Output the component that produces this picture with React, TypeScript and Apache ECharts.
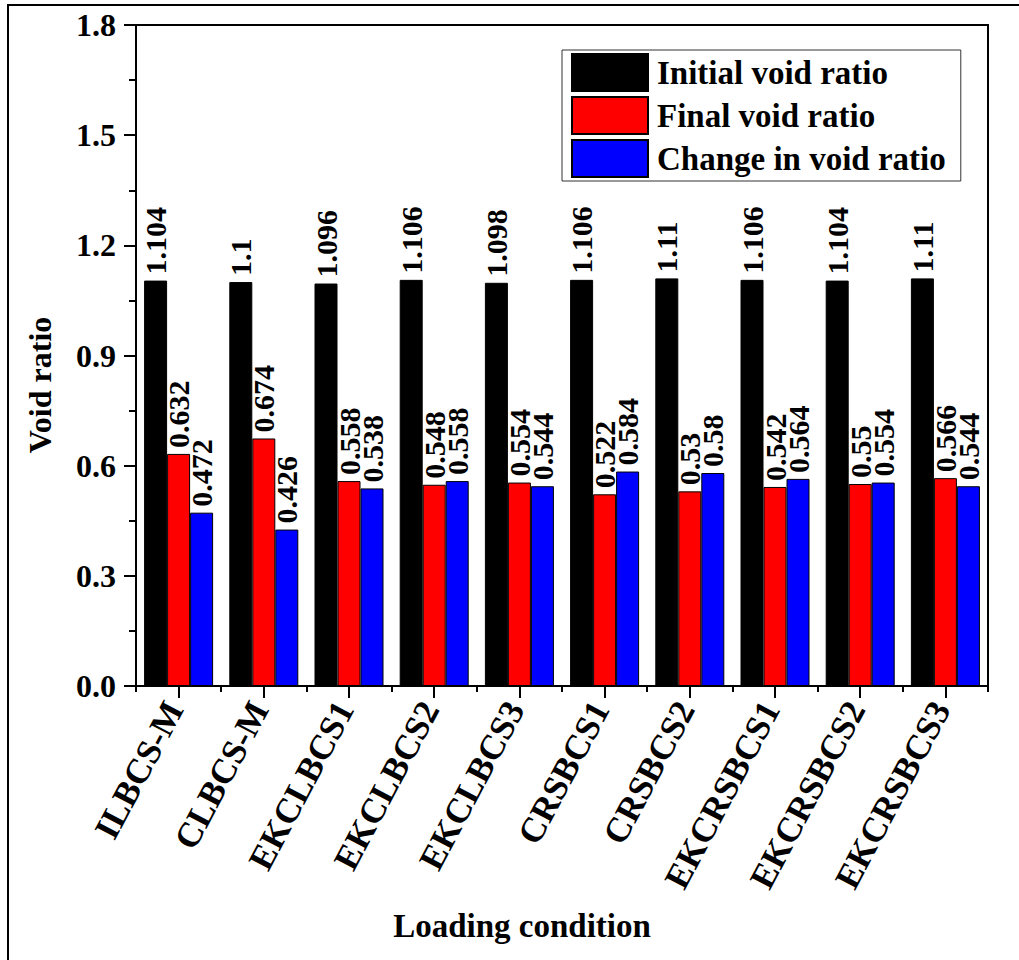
import React, { useEffect, useRef } from "react";
import * as echarts from "echarts";

const categories = [
  "ILBCS-M",
  "CLBCS-M",
  "EKCLBCS1",
  "EKCLBCS2",
  "EKCLBCS3",
  "CRSBCS1",
  "CRSBCS2",
  "EKCRSBCS1",
  "EKCRSBCS2",
  "EKCRSBCS3",
];
const initialVoid = [1.104, 1.1, 1.096, 1.106, 1.098, 1.106, 1.11, 1.106, 1.104, 1.11];
const finalVoid = [0.632, 0.674, 0.558, 0.548, 0.554, 0.522, 0.53, 0.542, 0.55, 0.566];
const changeVoid = [0.472, 0.426, 0.538, 0.558, 0.544, 0.584, 0.58, 0.564, 0.554, 0.544];
const seriesNames = ["Initial void ratio", "Final void ratio", "Change in void ratio"];
const seriesColors = ["#000000", "#ff0000", "#0000ff"];

const FONT = "'Liberation Serif', 'Times New Roman', serif";

export default function App() {
  const ref = useRef<HTMLDivElement>(null);

  useEffect(() => {
    if (!ref.current) return;
    const chart = echarts.init(ref.current, undefined, { renderer: "svg" });
    const values = [initialVoid, finalVoid, changeVoid];

    chart.setOption({
      animation: false,
      backgroundColor: "#ffffff",
      textStyle: { fontFamily: FONT },
      grid: {
        left: 136,
        right: 31,
        top: 25,
        bottom: 274,
        show: true,
        borderColor: "#000",
        borderWidth: 2,
        backgroundColor: "transparent",
      },
      legend: {
        orient: "vertical",
        left: 562,
        top: 50,
        itemWidth: 76,
        itemHeight: 37,
        itemGap: 4,
        padding: [3, 15, 3, 9],
        borderColor: "#333",
        borderWidth: 1,
        icon: "rect",
        textStyle: {
          fontFamily: FONT,
          fontSize: 33,
          fontWeight: "bold",
          color: "#000",
          padding: [0, 0, 0, 4],
        },
        data: seriesNames,
      },
      xAxis: [
        {
          type: "category",
          data: categories,
          position: "bottom",
          axisLine: { show: true, lineStyle: { color: "#000", width: 2 } },
          axisTick: {
            show: true,
            alignWithLabel: true,
            length: 12,
            lineStyle: { color: "#000", width: 2 },
          },
          axisLabel: {
            rotate: 62,
            margin: 10,
            padding: [28, 9, 0, 0],
            fontFamily: FONT,
            fontSize: 35,
            fontWeight: "bold",
            color: "#000",
            interval: 0,
          },
          splitLine: { show: false },
        },
        {
          // boundary ticks between categories
          type: "value",
          min: 0,
          max: 10,
          interval: 1,
          position: "bottom",
          axisLine: { show: false },
          axisTick: { show: true, length: 6, lineStyle: { color: "#000", width: 2 } },
          axisLabel: { show: false },
          splitLine: { show: false },
        },
      ],
      yAxis: {
        type: "value",
        min: 0,
        max: 1.8,
        interval: 0.3,
        axisLine: { show: true, lineStyle: { color: "#000", width: 2 } },
        axisTick: { show: true, length: 12, lineStyle: { color: "#000", width: 2 } },
        minorTick: { show: true, splitNumber: 2, length: 7, lineStyle: { color: "#000", width: 2 } },
        axisLabel: {
          margin: 20,
          fontFamily: FONT,
          fontSize: 32,
          fontWeight: "bold",
          color: "#000",
          formatter: (v: number) => v.toFixed(1),
        },
        splitLine: { show: false },
      },
      series: seriesNames.map((name, i) => ({
        name,
        type: "bar",
        xAxisIndex: 0,
        data: values[i],
        barWidth: 23,
        barGap: "0%",
        itemStyle: { color: seriesColors[i], borderColor: "#000", borderWidth: 1 },
        label: {
          show: true,
          position: "top",
          rotate: 90,
          align: "left",
          verticalAlign: "middle",
          distance: 6,
          fontFamily: FONT,
          fontSize: 30,
          fontWeight: "bold",
          color: "#000",
        },
      })),
      graphic: [
        {
          type: "text",
          rotation: Math.PI / 2,
          x: 40,
          y: 385,
          style: {
            text: "Void ratio",
            fontFamily: FONT,
            fontSize: 32,
            fontWeight: "bold",
            fill: "#000",
            align: "center",
            verticalAlign: "middle",
          },
        },
        {
          type: "text",
          x: 522,
          y: 926,
          style: {
            text: "Loading condition",
            fontFamily: FONT,
            fontSize: 33,
            fontWeight: "bold",
            fill: "#000",
            align: "center",
            verticalAlign: "middle",
          },
        },
        {
          type: "polyline",
          shape: { points: [[8, 960], [8, 5], [1019, 5]] },
          style: { stroke: "#000", lineWidth: 2, fill: "none" },
        },
      ],
    });

    return () => chart.dispose();
  }, []);

  return (
    <div
      ref={ref}
      style={{ position: "fixed", left: 0, top: 0, width: 1019, height: 960, background: "#fff" }}
    />
  );
}
